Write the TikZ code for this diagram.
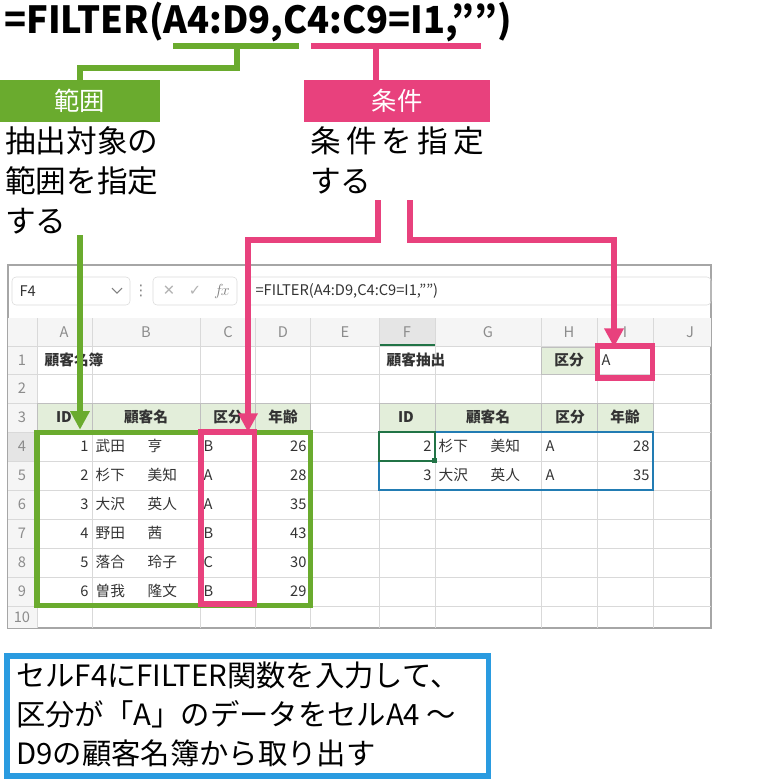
\documentclass[tikz,border=0pt]{standalone}
\usepackage{fontspec}
\setmainfont{Noto Sans CJK JP}
\newfontfamily\jp{Noto Sans CJK JP}
\newfontfamily\dv{DejaVu Sans}
\usetikzlibrary{arrows.meta}
\definecolor{gr}{HTML}{6AAB2E}
\definecolor{pk}{HTML}{E8417D}
\definecolor{bl}{HTML}{2A9BE0}
\definecolor{hd}{HTML}{E3EEDA}
\definecolor{gl}{HTML}{D9D9D9}
\definecolor{tx}{HTML}{333333}
\definecolor{xg}{HTML}{217346}
\begin{document}
\begin{tikzpicture}[x=0.75pt,y=-0.75pt,
  cell/.style={font=\fontsize{11}{12}\selectfont,text=tx,inner sep=1pt},
  hdr/.style={font=\bfseries\fontsize{11}{12}\selectfont,text=tx},
  colh/.style={font=\fontsize{11}{12}\selectfont,text=gray},
  lab/.style={font=\fontsize{19}{20}\selectfont,text=white},
  note/.style={font=\fontsize{22}{29}\selectfont,align=left,anchor=north west,inner sep=0pt},
  arr/.style={line width=4pt,-{Triangle[width=14pt,length=14pt]}},
  ln/.style={line width=4pt}]
\useasboundingbox (0,0) rectangle (783,779);
% title
\node[anchor=west,inner sep=0pt,font=\bfseries\fontsize{28}{30}\selectfont,xscale=0.97] (title) at (4,22) {=FILTER(A4:D9,C4:C9=I1,\char34\char34)};
\draw[gr,ln] (173,46) -- (299,46);
\draw[pk,ln] (311,46) -- (481,46);
\coordinate (g0) at (237,46);
\coordinate (p0) at (376,46);
% labels
\node[fill=gr,minimum width=120pt,minimum height=31pt,lab] (han) at (80,101) {範囲};
\node[fill=pk,minimum width=139pt,minimum height=31pt,lab] (jou) at (397,101) {条件};
\draw[gr,ln] (g0) -- (237,68) -- (80,68) -- (han.north);
\draw[pk,ln] (p0) -- (jou.north -| p0);
\node[note,font=\fontsize{23}{30}\selectfont] (t1) at (5,126) {抽出対象の\\範囲を指定\\する};
\node[note,font=\fontsize{23}{30}\selectfont] (t2) at (310,126) {条\,件\,を\,指\,定\\する};
% spreadsheet
\draw[gray!70,line width=0.8pt] (8,265) rectangle (711,628);
\draw[gl,rounded corners=3pt] (12,277) rectangle (130,305);
\node[cell,anchor=west] at (18,291) {F4};
\draw[gray,line width=0.8pt] (112,288) -- (117,293) -- (122,288);
\node[colh] at (141,291) {\dv ⋮};
\draw[gl,rounded corners=3pt] (153,277) rectangle (237,305);
\node[colh,text=gray!60] at (169,291) {\dv ✕};
\node[colh,text=gray!60] at (195,291) {\dv ✓};
\node[colh,font=\itshape\fontsize{12}{12}\selectfont] at (222,291) {$f\!x$};
\draw[gl,rounded corners=3pt] (247,277) rectangle (711,305);
\node[cell,anchor=west] at (254,291) {=FILTER(A4:D9,C4:C9=I1,\char34\char34)};
% column header backgrounds
\fill[gray!8] (8,318) rectangle (711,346);
\fill[gray!8] (8,346) rectangle (37,628);
\fill[gray!20] (379,318) rectangle (435,346);
\draw[xg,line width=1.2pt] (379,345) -- (435,345);
\fill[gray!20] (8,432) rectangle (37,461);
% header fills
\fill[hd] (37,403) rectangle (310,432);
\fill[hd] (379,403) rectangle (653,432);
\fill[hd] (541,347) rectangle (597,374);
% grid
\foreach \x in {37,92,200,255,310,379,435,541,597,653} \draw[gl] (\x,318) -- (\x,628);
\foreach \y in {346,374,403,432,461,490,519,548,577,606} \draw[gl] (8,\y) -- (711,\y);
\draw[gray!50] (37,403) rectangle (310,432);
\draw[gray!50] (379,403) rectangle (653,432);
\foreach \x in {92,200,255} \draw[gray!50] (\x,403)--(\x,432);
\foreach \x in {435,541,597} \draw[gray!50] (\x,403)--(\x,432);
\draw[gray!50] (541,347) rectangle (597,374);
\draw[bl!80!black,line width=0.8pt] (379,432) rectangle (653,490);
% column letters
\foreach \c/\x in {A/64,B/146,C/228,D/283,E/345,F/407,G/488,H/569,I/625,J/690}
  \node[colh,text=gray!90] at (\x,332) {\c};
\foreach \r/\y in {1/360,2/388,3/417,4/446,5/475,6/504,7/533,8/562,9/591,10/617}
  \node[colh,text=gray!90] at (22,\y) {\r};
% texts
\node[hdr,anchor=west] at (40,360) {顧客名簿};
\node[hdr,anchor=west] at (382,360) {顧客抽出};
\node[hdr] at (569,360) {区分};
\node[cell,anchor=west] at (600,360) {A};
\foreach \a/\b in {0/0,342/1}{
  \node[hdr] at (64+\a,417) {ID};
  \node[hdr] at (146+\a,417) {顧客名};
  \node[hdr] at (228+\a,417) {区分};
  \node[hdr] at (283+\a,417) {年齢};
}
\foreach \i/\n/\m/\k/\g/\y in {1/武田/亨/B/26/446,2/杉下/美知/A/28/475,3/大沢/英人/A/35/504,4/野田/茜/B/43/533,5/落合/玲子/C/30/562,6/曽我/隆文/B/29/591}{
  \node[cell,anchor=east] at (90,\y) {\i};
  \node[cell,anchor=west] at (94,\y) {\n};
  \node[cell,anchor=west] at (146,\y) {\m};
  \node[cell,anchor=west] at (202,\y) {\k};
  \node[cell,anchor=east] at (308,\y) {\g};
}
\foreach \i/\n/\m/\k/\g/\y in {2/杉下/美知/A/28/446,3/大沢/英人/A/35/475}{
  \node[cell,anchor=east] at (433,\y) {\i};
  \node[cell,anchor=west] at (437,\y) {\n};
  \node[cell,anchor=west] at (489,\y) {\m};
  \node[cell,anchor=west] at (544,\y) {\k};
  \node[cell,anchor=east] at (651,\y) {\g};
}
\draw[xg,line width=1.5pt] (379,432) rectangle (435,461);
\fill[xg] (432,458) rectangle (437,463);
% highlight boxes
\node[draw=gr,line width=4pt,minimum width=205pt,minimum height=130pt,inner sep=0pt] (gbox) at (173.5,519) {};
\node[draw=pk,line width=4pt,minimum width=40pt,minimum height=129pt,inner sep=0pt] (cbox) at (227.5,518) {};
\node[draw=pk,line width=4pt,minimum width=41pt,minimum height=24pt,inner sep=0pt] (ibox) at (625,362) {};
% arrows
\coordinate (ga) at (80,235);
\draw[gr,arr] (ga) -- (ga |- gbox.north);
\coordinate (pa) at (378,200);
\coordinate (pb) at (410,200);
\draw[pk,arr] (pa) -- (378,240) -- (248,240) -- (248,432);
\draw[pk,arr] (pb) -- (410,240) -- (614,240) -- (614,347);
% note
\node[draw=bl,line width=4pt,minimum width=361pt,minimum height=90pt,inner sep=0pt] (nb) at (247.5,716) {};
\node[note] at (16,662) {セルF4にFILTER関数を入力して、\\区分が「A」のデータをセルA4 〜\\D9の顧客名簿から取り出す};
\end{tikzpicture}
\end{document}
